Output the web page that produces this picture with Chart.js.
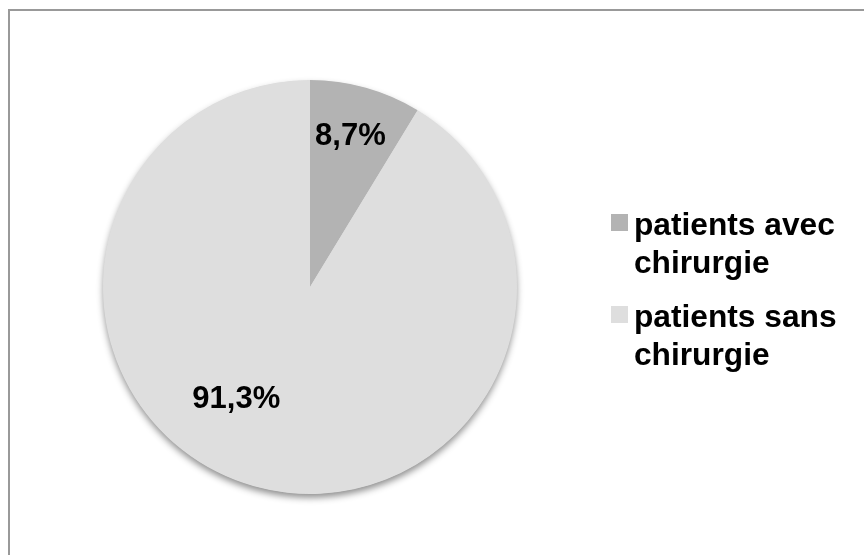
<!DOCTYPE html>
<html>
<head>
<meta charset="utf-8">
<script src="https://cdn.jsdelivr.net/npm/chart.js@4/dist/chart.umd.min.js"></script>
<style>
  html, body { margin: 0; padding: 0; width: 864px; height: 555px; overflow: hidden; background: #fff; }
  #frame { position: absolute; left: 8px; top: 9px; width: 1000px; height: 700px; border: 2px solid #999999; box-sizing: border-box; }
  #c { position: absolute; left: 0; top: 0; }
</style>
</head>
<body>
<div id="frame"></div>
<canvas id="c" width="864" height="555"></canvas>
<script>
const categories = [["patients avec", "chirurgie"], ["patients sans", "chirurgie"]];
const values = [8.7, 91.3];
const valueLabels = ["8,7%", "91,3%"];
const colors = ["#b3b3b3", "#dedede"];

const FONT = 'bold 31px "Liberation Sans", Arial, sans-serif';
const LEGEND_FONT = 'bold 31.7px "Liberation Sans", Arial, sans-serif';

const shadowPlugin = {
  id: 'pieShadow',
  beforeDatasetsDraw(chart) {
    const arc = chart.getDatasetMeta(0).data[0];
    if (!arc) return;
    const ctx = chart.ctx;
    ctx.save();
    ctx.shadowColor = 'rgba(0,0,0,0.45)';
    ctx.shadowBlur = 7;
    ctx.shadowOffsetY = 4;
    ctx.fillStyle = '#dedede';
    ctx.beginPath();
    ctx.arc(arc.x, arc.y, arc.outerRadius - 0.5, 0, Math.PI * 2);
    ctx.fill();
    ctx.restore();
  }
};

const labelPlugin = {
  id: 'sliceLabels',
  afterDatasetsDraw(chart, args, opts) {
    const meta = chart.getDatasetMeta(0);
    const ctx = chart.ctx;
    ctx.save();
    ctx.font = FONT;
    ctx.fillStyle = '#000';
    ctx.textAlign = 'center';
    ctx.textBaseline = 'middle';
    meta.data.forEach((arc, i) => {
      const p = opts.placement[i];
      const a = (p.angleDeg - 90) * Math.PI / 180;
      const r = arc.outerRadius * p.radiusFrac;
      ctx.fillText(valueLabels[i], arc.x + Math.cos(a) * r, arc.y + Math.sin(a) * r + 1);
    });
    ctx.restore();
  }
};

const legendPlugin = {
  id: 'sideLegend',
  afterDraw(chart, args, opts) {
    const ctx = chart.ctx;
    ctx.save();
    ctx.font = LEGEND_FONT;
    ctx.textAlign = 'left';
    ctx.textBaseline = 'alphabetic';
    categories.forEach((lines, i) => {
      const top = opts.y + i * opts.itemGap;
      ctx.fillStyle = colors[i];
      ctx.fillRect(opts.x, top, opts.box, opts.box);
      ctx.fillStyle = '#000';
      lines.forEach((t, j) => {
        ctx.fillText(t, opts.x + opts.box + 6, top + opts.baseOffset + j * opts.lineGap);
      });
    });
    ctx.restore();
  }
};

new Chart(document.getElementById('c'), {
  type: 'pie',
  data: {
    labels: categories.map(l => l.join(' ')),
    datasets: [{
      data: values,
      backgroundColor: colors,
      borderWidth: 0,
      hoverOffset: 0
    }]
  },
  options: {
    responsive: false,
    animation: false,
    layout: { padding: { left: 103, right: 347, top: 80, bottom: 61 } },
    plugins: {
      legend: { display: false },
      tooltip: { enabled: false },
      sliceLabels: { placement: [ { angleDeg: 14.9, radiusFrac: 0.76 }, { angleDeg: 213.5, radiusFrac: 0.645 } ] },
      sideLegend: { x: 611, y: 214, box: 17, itemGap: 92, baseOffset: 21, lineGap: 38 }
    }
  },
  plugins: [shadowPlugin, labelPlugin, legendPlugin]
});
</script>
</body>
</html>
